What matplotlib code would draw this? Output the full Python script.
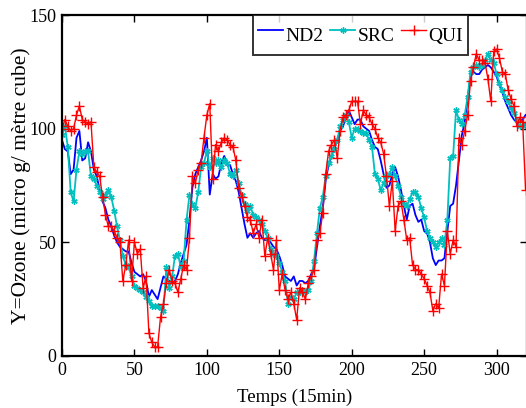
import matplotlib
matplotlib.use("Agg")
import matplotlib.pyplot as plt
import numpy as np

plt.rcParams['font.family'] = ['Liberation Serif', 'DejaVu Serif']

# valeurs relevees toutes les 2 unites de temps (0 .. 320)
nd2 = [95, 91, 90, 80, 82, 96, 99, 86, 87, 94, 90, 82, 79, 73, 68, 65, 60, 57, 53, 50,
       48, 47, 46, 46, 41, 37, 36, 35, 36, 33, 26, 29, 27, 25, 30, 35, 34, 33, 32, 33,
       36, 41, 45, 49, 60, 74, 80, 83, 86, 90, 96, 71, 80, 78, 79, 85, 88, 84, 84, 80,
       77, 72, 65, 58, 52, 54, 52, 54, 55, 52, 51, 51, 50, 48, 47, 44, 40, 35, 34, 33,
       35, 31, 33, 33, 32, 33, 36, 38, 48, 57, 65, 77, 84, 88, 92, 95, 99, 101, 105, 108,
       105, 102, 104, 104, 101, 100, 99, 95, 92, 91, 86, 80, 74, 75, 80, 83, 79, 73, 66, 60,
       66, 67, 62, 59, 60, 55, 54, 50, 43, 40, 42, 42, 43, 55, 66, 67, 75, 86, 97, 103,
       113, 123, 125, 124, 124, 126, 127, 128, 127, 125, 123, 119, 116, 112, 109, 106, 104, 103, 103, 104,
       106]

src = [97, 101, 92, 72, 68, 82, 90, 89, 90, 90, 79, 78, 75, 72, 69, 71, 73, 70, 64, 57,
       51, 44, 40, 39, 35, 31, 30, 29, 28, 26, 24, 22, 22, 22, 21, 20, 39, 30, 35, 44,
       45, 39, 42, 60, 71, 67, 65, 72, 83, 85, 90, 83, 87, 85, 86, 83, 86, 85, 80, 79,
       82, 76, 71, 67, 64, 66, 62, 61, 60, 58, 55, 52, 47, 45, 44, 41, 37, 33, 23, 26,
       25, 28, 28, 29, 28, 29, 33, 42, 54, 65, 70, 79, 85, 88, 91, 95, 101, 104, 106, 103,
       96, 100, 100, 99, 98, 98, 95, 92, 80, 78, 73, 76, 79, 80, 83, 79, 75, 70, 67, 66,
       69, 72, 72, 70, 65, 61, 55, 52, 50, 48, 50, 52, 49, 60, 87, 88, 108, 104, 102, 106,
       114, 125, 127, 128, 127, 128, 130, 133, 130, 129, 124, 120, 117, 114, 112, 109, 107, 104, 101, 101,
       102]

qui = [100, 104, 101, 99, 100, 106, 110, 104, 103, 102, 103, 83, 81, 79, 70, 62, 57, 57, 55, 52,
       50, 33, 40, 51, 33, 50, 45, 47, 30, 35, 10, 6, 4, 4, 17, 23, 32, 38, 33, 32,
       28, 34, 40, 38, 52, 79, 76, 82, 85, 96, 106, 111, 78, 93, 90, 94, 96, 95, 93, 92,
       86, 74, 70, 66, 61, 60, 54, 58, 52, 60, 44, 52, 45, 38, 51, 29, 36, 29, 25, 28,
       23, 16, 30, 28, 25, 32, 35, 38, 51, 54, 63, 80, 90, 93, 95, 87, 99, 105, 106, 108,
       112, 112, 112, 102, 108, 106, 105, 102, 100, 96, 94, 89, 79, 66, 77, 55, 66, 68, 60, 51,
       52, 40, 38, 38, 36, 34, 31, 28, 20, 23, 21, 36, 31, 55, 45, 51, 48, 96, 93, 99,
       106, 121, 127, 133, 130, 130, 129, 122, 112, 134, 135, 131, 125, 124, 117, 113, 110, 101, 105, 103,
       73]

fig = plt.figure(figsize=(5.26, 4.08), dpi=100)
ax = fig.add_axes([62 / 526, 52 / 408, 465 / 526, 341 / 408])

ax.plot(2 * np.arange(len(nd2)), nd2, '-', color='b', lw=1.3, label='ND2')
ax.plot(2 * np.arange(len(src)), src, '-', color='c', lw=1.3, marker=(6, 2, 0), ms=4.5,
        mew=1.0, label='SRC')
ax.plot(2 * np.arange(len(qui)), qui, '-+', color='r', lw=1.0, ms=7, mew=1.0, label='QUI')

ax.set_xlim(0, 321)
ax.set_ylim(0, 150)
ax.set_xticks([0, 50, 100, 150, 200, 250, 300])
ax.set_yticks([0, 50, 100, 150])

ax.tick_params(direction='in', top=True, right=True, length=5, width=1, labelsize=13, pad=4)
for s in ax.spines.values():
    s.set_linewidth(1.6)

ax.set_xlabel('Temps (15min)', fontsize=13.5, labelpad=7)
ax.set_ylabel('Y=Ozone (micro g/ mètre cube)', fontsize=15.5, labelpad=-1)

leg = ax.legend(loc='upper left', bbox_to_anchor=(0.411, 1.0), ncol=3, fontsize=14,
                frameon=True, fancybox=False, edgecolor='black', borderaxespad=0,
                handlelength=1.3, handleheight=2.0, handletextpad=0.1,
                columnspacing=0.35, borderpad=0.25)
leg.get_frame().set_linewidth(1.4)

fig.savefig('out.png', dpi=100)
